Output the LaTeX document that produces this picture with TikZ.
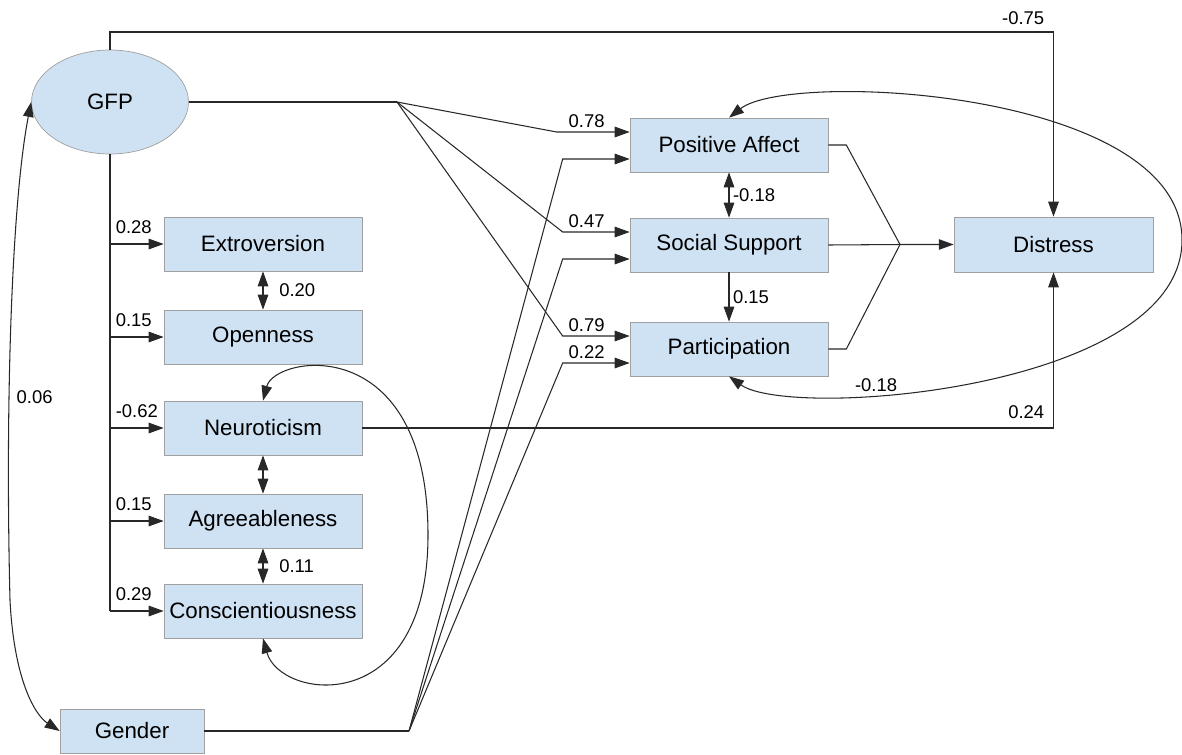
\documentclass[tikz,border=0pt]{standalone}
\usepackage{fontspec}
\setmainfont{Liberation Sans}
\usepackage{xcolor}
\definecolor{boxblue}{RGB}{207,226,243}
\definecolor{boxgray}{RGB}{160,160,160}
\definecolor{linegray}{RGB}{40,40,40}
\usepackage{tikz}
\usetikzlibrary{calc}
\usetikzlibrary{arrows.meta}
\usetikzlibrary{shapes.geometric}
\newcommand{\boxfont}{\fontsize{12.7}{15}\selectfont}
\newcommand{\coeffont}{\fontsize{10.5}{12}\selectfont}
\newcommand{\widthbox}{3.96cm}
\newcommand{\heightbox}{1.08cm}
\tikzset{
    common/.style={draw=boxgray, fill=boxblue, font=\boxfont, inner sep=0pt},
    var/.style={common, rectangle, minimum width=\widthbox, minimum height=\heightbox},
    latent/.style={common, ellipse, minimum width=3.14cm, minimum height=2.08cm},
    link/.style={draw=linegray, line width=0.6pt},
    effect/.style={link, -{Triangle[length=8.5pt, width=6pt]}},
    covar/.style={link, {Triangle[length=8.5pt, width=6pt]}-{Triangle[length=8.5pt, width=6pt]}},
    coef/.style={font=\coeffont, inner sep=2pt}
}

\begin{document}
\begin{tikzpicture}[x=0.02cm, y=-0.02cm]
  \useasboundingbox (0,0) rectangle (1182,754);

  \node[latent] (gfp) at (110,102) {GFP};
  \node[var, minimum width=2.88cm, minimum height=0.88cm] (gender) at (132,731) {Gender};

  \path (263,244) node[var] (extro) {Extroversion}
    ++(0,93) node[var] (open) {Openness}
    ++(0,91) node[var] (neuro) {Neuroticism}
    ++(0,93) node[var] (agree) {Agreeableness}
    ++(0,90) node[var] (consc) {Conscientiousness};

  \path (729,145) node[var] (affect) {Positive Affect}
    ++(0,100) node[var] (support) {Social Support}
    ++(0,104) node[var] (partic) {Participation};

  \node[var, minimum width=3.98cm, minimum height=1.1cm] (distress) at (1053.5,244.5) {Distress};

  \coordinate (gfp-fan) at (397,102);
  \coordinate (gender-fan) at (409,731);
  \coordinate (distress-fan) at (900,244.5);
  \coordinate (top-line) at (0,32);
  \coordinate (trait-loop) at (428,535);
  \coordinate (outcome-loop) at (1182,240);

  % GFP and the five traits
  \draw[link] (gfp.south) -- (gfp.south |- consc.west);
  \foreach \trait/\val in {extro/0.28, open/0.15, neuro/-0.62, agree/0.15, consc/0.29}
    \draw[effect] (gfp.south |- \trait.west) -- node[coef, pos=0, anchor=south west, xshift=1pt, yshift=3.5pt] {\val} (\trait.west);

  \draw[covar] (extro) -- node[coef, right, xshift=7pt] {0.20} (open);
  \draw[covar] (neuro) -- (agree);
  \draw[covar] (agree) -- node[coef, right, xshift=7pt] {0.11} (consc);
  \draw[covar] (neuro.north) .. controls (275,355) and (428,330) .. (trait-loop)
    .. controls (428,720) and (280,700) .. (consc.south);

  % GFP with Gender
  \draw[covar] (gfp.west) .. controls (12,200) and (5,400) .. (10,600)
    node[coef, pos=0.655, right, xshift=2pt] {0.06}
    .. controls (14,680) and (35,715) .. (gender.west);

  % predictors of the outcomes
  \draw[link] (gfp.east) -- (gfp-fan);
  \foreach \target/\val/\dx in {affect/0.78/-73, support/0.47/-67, partic/0.79/-67}
    \draw[effect] (gfp-fan) -- ($(\target.west)+(\dx,-13)$) -- node[coef, pos=1, anchor=south east, xshift=-12pt] {\val} ($(\target.west)+(0,-13)$);

  \draw[link] (gender.east) -- (gender-fan);
  \foreach \target/\val in {affect/, support/, partic/0.22}
    \draw[effect] (gender-fan) -- ($(\target.west)+(-67,14)$) -- node[coef, pos=1, anchor=south east, xshift=-12pt] {\val} ($(\target.west)+(0,14)$);

  % among the outcomes
  \draw[covar] (affect) -- node[coef, right] {-0.18} (support);
  \draw[effect] (support) -- node[coef, right] {0.15} (partic);
  \draw[covar] (affect.north) .. controls (790,70) and (1182,90) .. (outcome-loop)
    .. controls (1182,390) and (790,420) .. (partic.south)
    node[coef, pos=0.68, above, inner sep=1pt, xshift=6pt] {-0.18};

  % Distress
  \draw[link] (affect.east) -- ++(18,0) -- (distress-fan);
  \draw[link] (partic.east) -- ++(18,0) -- (distress-fan);
  \draw[effect] (support.east) -- (distress-fan) -- (distress.west);
  \draw[effect] (gfp.north) |- (distress.north |- top-line)
    node[coef, anchor=south east, xshift=-3pt, yshift=2pt] {-0.75} -- (distress.north);
  \draw[effect] (neuro.east) -- (distress.south |- neuro.east)
    node[coef, anchor=south east, xshift=-3pt, yshift=3pt] {0.24} -- (distress.south);
\end{tikzpicture}
\end{document}
